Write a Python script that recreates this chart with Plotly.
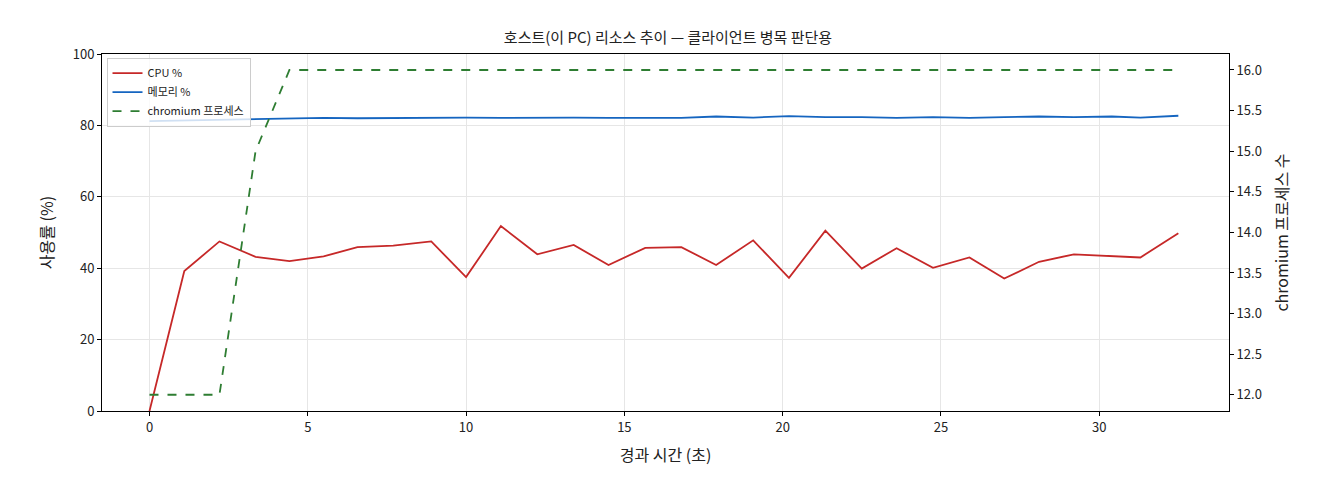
import plotly.graph_objects as go

elapsed_s = [0.0, 1.1, 2.21, 3.35, 4.42, 5.5, 6.57, 7.7, 8.9, 10.0, 11.1, 12.25, 13.4, 14.5, 15.66,
             16.8, 17.9, 19.07, 20.2, 21.35, 22.5, 23.6, 24.75, 25.9, 27.0, 28.1, 29.2, 30.4, 31.3, 32.5]
cpu_pct = [0, 39.2, 47.5, 43.2, 42.0, 43.3, 45.9, 46.3, 47.5, 37.5, 51.8, 43.9, 46.5, 40.9, 45.7,
           45.9, 40.9, 47.8, 37.3, 50.5, 39.9, 45.6, 40.1, 43.0, 37.1, 41.8, 43.9, 43.5, 43.0, 49.8]
mem_pct = [81.2, 81.4, 81.6, 81.8, 81.8, 82.1, 82.0, 82.1, 82.0, 82.2, 82.1, 82.2, 82.2, 82.1, 82.2,
           82.1, 82.5, 82.2, 82.6, 82.3, 82.3, 82.1, 82.3, 82.1, 82.3, 82.5, 82.3, 82.5, 82.2, 82.7]
chromium_n = [12, 12, 12, 15, 16, 16, 16, 16, 16, 16, 16, 16, 16, 16, 16,
              16, 16, 16, 16, 16, 16, 16, 16, 16, 16, 16, 16, 16, 16, 16]

fig = go.Figure()
fig.add_trace(go.Scatter(x=elapsed_s, y=cpu_pct, name="CPU %", mode="lines",
                         line=dict(color="#c62828", width=1.8)))
fig.add_trace(go.Scatter(x=elapsed_s, y=mem_pct, name="메모리 %", mode="lines",
                         line=dict(color="#1565c0", width=1.8)))
fig.add_trace(go.Scatter(x=elapsed_s, y=chromium_n, name="chromium 프로세스", mode="lines",
                         line=dict(color="#2e7d32", width=1.8, dash="dash"), yaxis="y2"))

axis_style = dict(showline=True, linecolor="black", ticks="outside",
                  ticklen=4, tickcolor="black", zeroline=False)
fig.update_layout(
    width=1320, height=480,
    font=dict(family="Noto Sans CJK KR", size=13, color="#222"),
    title=dict(text="호스트(이 PC) 리소스 추이 — 클라이언트 병목 판단용", x=0.5, y=0.95,
               xanchor="center", font=dict(size=15)),
    margin=dict(l=94, r=99, t=46, b=77),
    plot_bgcolor="white", paper_bgcolor="white",
    xaxis=dict(title="경과 시간 (초)", range=[-1.5, 34.1], tickvals=[0, 5, 10, 15, 20, 25, 30],
               showgrid=True, gridcolor="#e6e6e6", mirror=True, **axis_style),
    yaxis=dict(title="사용률 (%)", range=[0, 100], dtick=20, showgrid=True,
               gridcolor="#e6e6e6", **axis_style),
    yaxis2=dict(title="chromium 프로세스 수", overlaying="y", side="right",
                range=[11.8, 16.197], dtick=0.5, tickformat=".1f", showgrid=False, **axis_style),
    legend=dict(x=0.004, y=0.99, xanchor="left", yanchor="top", bgcolor="rgba(255,255,255,0.8)",
                bordercolor="#ccc", borderwidth=1, font=dict(size=11)),
)
fig.write_html("out.html")
